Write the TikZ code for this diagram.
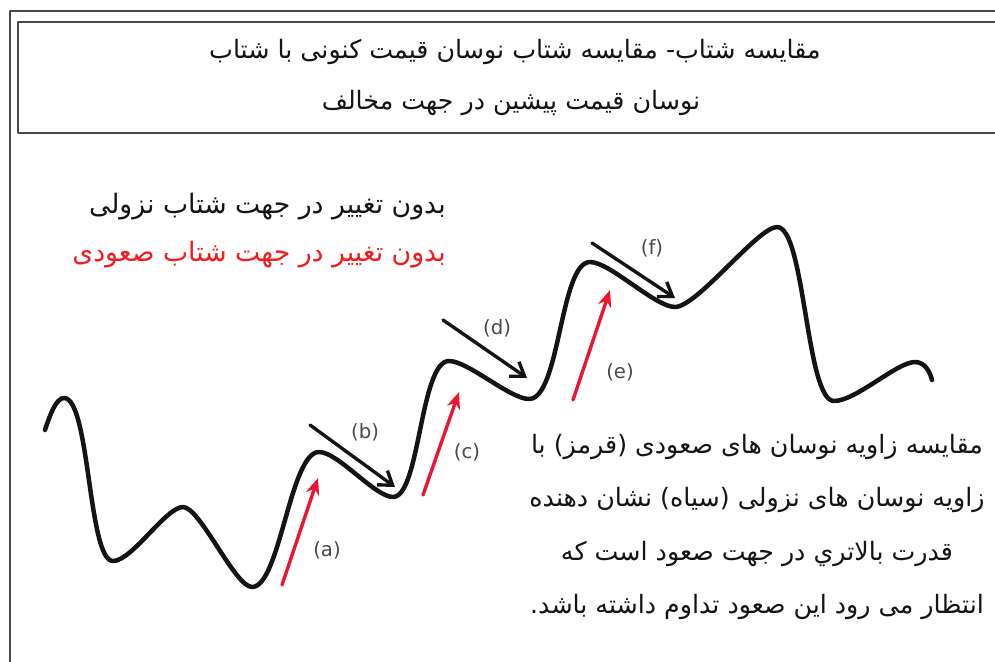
\documentclass[tikz,border=0pt]{standalone}
\usepackage{fontspec}
\usepackage{xcolor}
\usepackage{tikz}
\usetikzlibrary{arrows.meta,positioning}
\TeXXeTstate=1
\newfontfamily\arabicfont[Script=Arabic]{DejaVu Sans}
\newfontfamily\tagfont{DejaVu Sans}
\definecolor{ink}{HTML}{141414}
\definecolor{framegray}{HTML}{4A4A4A}
\definecolor{upred}{HTML}{EE1330}
\definecolor{tagray}{HTML}{4A4A4A}
\definecolor{notered}{HTML}{F51A1A}
\tikzset{
    every picture/.style={line cap=round,line join=round},
    pricecurve/.style={draw=ink,line width=3.2pt},
    uparrow/.style={-{Stealth[length=4.2mm,width=3.4mm]},draw=upred,
      line width=2.4pt},
    downarrow/.style={-{Straight Barb[length=3.2mm,width=4.4mm]},draw=ink,
      line width=2.4pt},
    swingtag/.style={font=\tagfont\fontsize{14}{16}\selectfont,text=tagray,
      inner sep=1pt},
    farsi/.style={font=\arabicfont\fontsize{18}{21}\selectfont,text=ink,
      inner sep=0pt},
    framebox/.style={draw=framegray,line width=1.8pt}
}

\begin{document}
\begin{tikzpicture}[x=0.25mm,y=-0.25mm]
  \useasboundingbox (0,0) rectangle (995,662);
  \clip (0,0) rectangle (995,662);
  % frame and title box
  \draw[framebox] (10,662)--(10,11)--(1000,11);
  \draw[framebox] (18,22) rectangle (1005,133);
  \node[farsi] (title1) at (515,52){\beginR مقایسه شتاب- مقایسه شتاب نوسان قیمت کنونی با شتاب\endR};
  \node[farsi] (title2) at (511,103){\beginR نوسان قیمت پیشین در جهت مخالف\endR};
  % legend
  \node[farsi,anchor=east,font=\arabicfont\fontsize{19}{22}\selectfont] (downnote) at (446,207){\beginR بدون تغییر در جهت شتاب نزولی\endR};
  \node[farsi,anchor=east,font=\arabicfont\fontsize{19}{22}\selectfont,text=notered] (upnote) at (446,255){\beginR بدون تغییر در جهت شتاب صعودی\endR};
  % price swings, peak to trough
  \draw[pricecurve] (45,430)
    .. controls (50,415) and (56,398) .. (64,398)
    .. controls (90,398) and (88,561) .. (113,561)
    .. controls (132,561) and (166,507) .. (183,507)
    .. controls (200,507) and (235,587) .. (252,587)
    .. controls (280,587) and (290,452) .. (319,452)
    .. controls (338,452) and (375,497) .. (393,497)
    .. controls (420,497) and (420,361) .. (449,361)
    .. controls (468,361) and (510,399) .. (529,399)
    .. controls (560,399) and (560,262) .. (590,262)
    .. controls (610,262) and (655,307) .. (675,307)
    .. controls (697,307) and (758,227) .. (777,227)
    .. controls (805,227) and (806,401) .. (834,401)
    .. controls (856,401) and (897,362) .. (915,362)
    .. controls (925,362) and (930,372) .. (932,380);
  \coordinate (a0) at (282,585); \coordinate (a1) at (318,478);
  \coordinate (b0) at (310,425); \coordinate (b1) at (395,487);
  \coordinate (c0) at (423,495); \coordinate (c1) at (459,392);
  \coordinate (d0) at (443,320); \coordinate (d1) at (527,378);
  \coordinate (e0) at (573,400); \coordinate (e1) at (610,290);
  \coordinate (f0) at (592,243); \coordinate (f1) at (675,298);
  \draw[uparrow] (a0)--(a1);
  \draw[uparrow] (c0)--(c1);
  \draw[uparrow] (e0)--(e1);
  \draw[downarrow] (b0)--(b1);
  \draw[downarrow] (d0)--(d1);
  \draw[downarrow] (f0)--(f1);
  \node[swingtag] (tagA) at (327,550){(a)};
  \node[swingtag] (tagB) at (365,432){(b)};
  \node[swingtag] (tagC) at (467,452){(c)};
  \node[swingtag] (tagD) at (497,328){(d)};
  \node[swingtag] (tagE) at (620,372){(e)};
  \node[swingtag] (tagF) at (652,248){(f)};
  % comparison note
  \node[farsi,align=center,font=\arabicfont\fontsize{18}{38}\selectfont] (compnote) at (757,527){%
    \beginR مقایسه زاویه نوسان های صعودی (قرمز) با\endR\\
    \beginR زاویه نوسان های نزولی (سیاه) نشان دهنده\endR\\
    \beginR قدرت بالاتري در جهت صعود است که\endR\\
    \beginR انتظار می رود این صعود تداوم داشته باشد.\endR};
\end{tikzpicture}
\end{document}
